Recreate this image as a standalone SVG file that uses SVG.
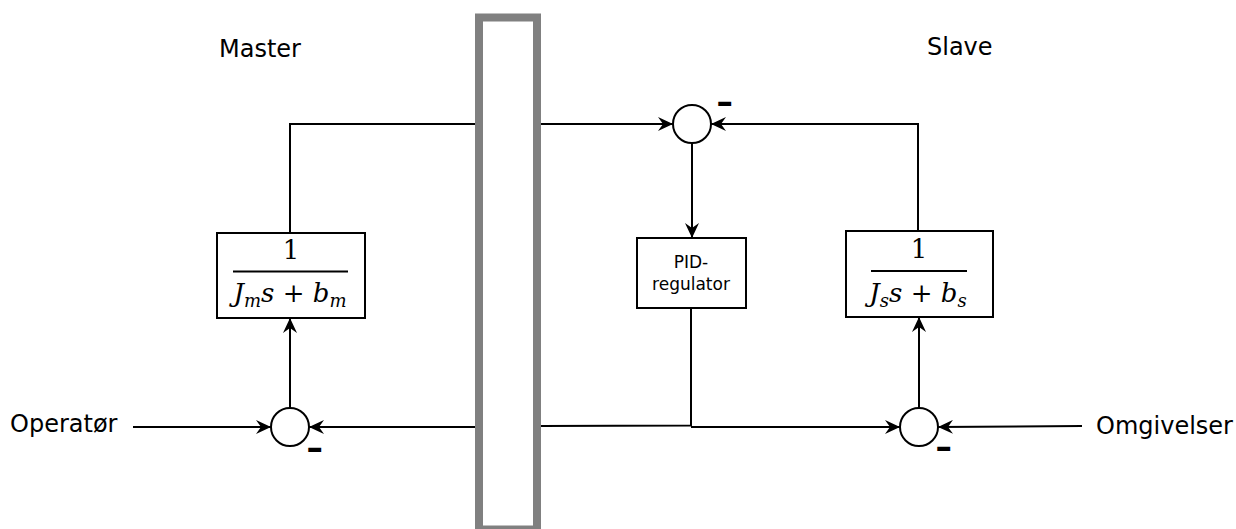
<svg xmlns="http://www.w3.org/2000/svg" width="1236" height="529" viewBox="0 0 1236 529">
<style>
.ln{fill:none;stroke:#000;stroke-width:2}
.box{fill:#fff;stroke:#000;stroke-width:2}
.lbl{font-family:"DejaVu Sans",sans-serif;font-size:24px;fill:#000}
.pid{font-family:"DejaVu Sans",sans-serif;font-size:17px;fill:#000;text-anchor:middle}
.math{font-family:"DejaVu Serif",serif;font-size:26px;fill:#000;text-anchor:middle}
.it{font-style:italic}
.sub{font-style:italic;font-size:18px}
.minus{font-family:"DejaVu Sans",sans-serif;font-weight:bold;font-size:30px;fill:#000}
</style>
<defs>
<marker id="ah" viewBox="0 0 15 14" refX="15" refY="7" markerWidth="15" markerHeight="14" markerUnits="userSpaceOnUse" orient="auto">
<path d="M0,0 L15,7 L0,14 L5,7 z" fill="#000"/>
</marker>
</defs>
<rect width="1236" height="529" fill="#fff"/>
<g id="connectors">
<polyline class="ln" points="290,233 290,124 475,124"/>
<line class="ln" x1="541" y1="124" x2="673" y2="124" marker-end="url(#ah)"/>
<polyline class="ln" points="918,231 918,124 711,124" marker-end="url(#ah)"/>
<line class="ln" x1="692" y1="143" x2="692" y2="238" marker-end="url(#ah)"/>
<line class="ln" x1="290" y1="408" x2="290" y2="318" marker-end="url(#ah)"/>
<line class="ln" x1="133" y1="427" x2="271" y2="427" marker-end="url(#ah)"/>
<line class="ln" x1="475" y1="427" x2="309" y2="427" marker-end="url(#ah)"/>
<polyline class="ln" points="541,426 691,425.5 691,308"/>
<line class="ln" x1="691" y1="427" x2="900" y2="427" marker-end="url(#ah)"/>
<line class="ln" x1="919" y1="408" x2="919" y2="317" marker-end="url(#ah)"/>
<line class="ln" x1="1082" y1="426" x2="938" y2="427" marker-end="url(#ah)"/>
</g>
<g id="channel">
<rect x="479" y="17.5" width="58" height="512" fill="none" stroke="#808080" stroke-width="8"/>
</g>
<g id="master-label"><text class="lbl" x="219" y="57">Master</text></g>
<g id="slave-label"><text class="lbl" x="927" y="55">Slave</text></g>
<g id="operator-label"><text class="lbl" x="10" y="432">Operatør</text></g>
<g id="omgivelser-label"><text class="lbl" x="1096" y="434">Omgivelser</text></g>
<g id="master-block">
<rect class="box" x="217" y="233" width="148" height="85"/>
<text class="math" x="291" y="259">1</text>
<line x1="233" y1="271.5" x2="348" y2="271.5" stroke="#000" stroke-width="2"/>
<text class="math" x="290" y="302"><tspan class="it">J</tspan><tspan class="sub" dy="5">m</tspan><tspan class="it" dy="-5">s</tspan> + <tspan class="it">b</tspan><tspan class="sub" dy="5">m</tspan></text>
</g>
<g id="slave-block">
<rect class="box" x="846" y="231" width="147" height="86"/>
<text class="math" x="919" y="258">1</text>
<line x1="871" y1="271" x2="967" y2="271" stroke="#000" stroke-width="2"/>
<text class="math" x="918" y="302"><tspan class="it">J</tspan><tspan class="sub" dy="5">s</tspan><tspan class="it" dy="-5">s</tspan> + <tspan class="it">b</tspan><tspan class="sub" dy="5">s</tspan></text>
</g>
<g id="pid-block">
<rect class="box" x="637" y="238" width="109" height="70"/>
<text class="pid" x="691" y="268">PID-</text>
<text class="pid" x="691" y="290">regulator</text>
</g>
<g id="sum-top">
<circle cx="692" cy="124" r="19" fill="#fff" stroke="#000" stroke-width="2"/>
<text class="minus" transform="translate(716,113) scale(1.4,1)">-</text>
</g>
<g id="sum-left">
<circle cx="290" cy="427" r="19" fill="#fff" stroke="#000" stroke-width="2"/>
<text class="minus" transform="translate(306,459) scale(1.4,1)">-</text>
</g>
<g id="sum-right">
<circle cx="919" cy="427" r="19" fill="#fff" stroke="#000" stroke-width="2"/>
<text class="minus" transform="translate(935,457.5) scale(1.4,1)">-</text>
</g>
</svg>
